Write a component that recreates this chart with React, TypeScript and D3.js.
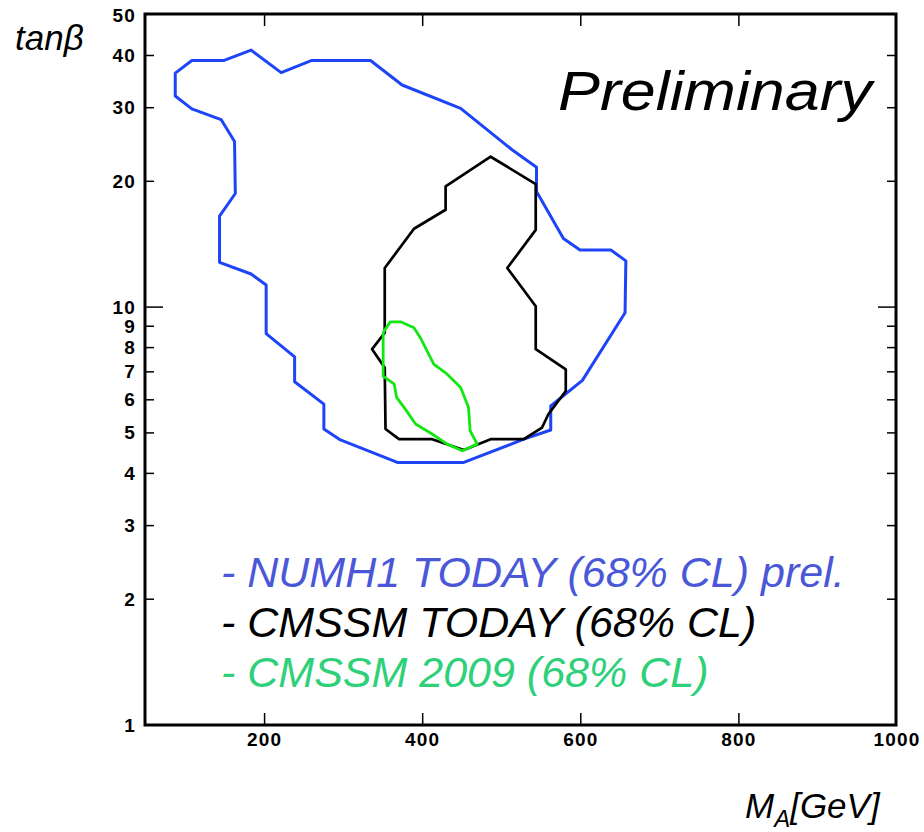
import React from "react";
import * as d3 from "d3";

// 68% CL contours in the (M_A, tanβ) plane: [M_A in GeV, tanβ]
const numh1Today: [number, number][] = [
  [108, 38.9], [148, 38.9], [183, 41.2], [221, 36.4], [259, 38.9], [334, 38.9],
  [374, 34.0], [448, 29.9], [513, 23.8], [544, 21.6], [544, 18.9], [578, 14.6],
  [599, 13.7], [638, 13.7], [657, 12.9], [656, 9.69], [602, 6.68], [562, 5.8],
  [562, 5.08], [528, 4.83], [452, 4.25], [368, 4.25], [296, 4.81], [275, 5.11],
  [275, 5.86], [238, 6.63], [238, 7.6], [202, 8.64], [202, 11.3], [183, 12.0],
  [143, 12.8], [143, 16.5], [163, 18.7], [162, 24.9], [145, 28.1], [108, 29.8],
  [87, 32.0], [87, 36.3],
];

const cmssmToday: [number, number][] = [
  [486, 22.9], [543, 19.7], [543, 15.3], [507, 12.4], [520, 11.5], [543, 10.05],
  [543, 7.93], [581, 7.1], [581, 6.3], [559, 5.54], [551, 5.15], [528, 4.83],
  [486, 4.83], [452, 4.55], [412, 4.83], [370, 4.83], [353, 5.11], [352, 7.16],
  [336, 7.93], [352, 8.68], [352, 12.4], [389, 15.4], [429, 17.1], [429, 19.45],
];

const cmssm2009: [number, number][] = [
  [351, 8.76], [359, 9.22], [372, 9.22], [389, 8.92], [397, 8.45], [414, 7.3],
  [431, 6.91], [448, 6.42], [458, 5.75], [460, 5.06], [469, 4.7], [450, 4.53],
  [431, 4.7], [412, 4.97], [391, 5.25], [378, 5.7], [367, 6.08], [364, 6.54],
  [350, 6.84], [350, 8.61],
];

const xTicks = [200, 400, 600, 800];
const xTickLabels = ["200", "400", "600", "800", "1000"];
const xLabelValues = [200, 400, 600, 800, 1000];
const yTicks = [2, 3, 4, 5, 6, 7, 8, 9, 10, 20, 30, 40];
const yMajor = [10];
const yLabelValues = [1, 2, 3, 4, 5, 6, 7, 8, 9, 10, 20, 30, 40, 50];

const legendLines = [
  { text: "- NUMH1 TODAY (68% CL) prel.", color: "#4a58d8" },
  { text: "- CMSSM TODAY (68% CL)", color: "#000000" },
  { text: "- CMSSM 2009 (68% CL)", color: "#2fd07a" },
];

const W = 924;
const H = 832;
const left = 145;
const right = 896;
const top = 14;
const bottom = 725;

export default function App() {
  const x = d3.scaleLinear().domain([50, 1000]).range([146, 897]);
  const y = d3.scaleLog().domain([1, 50]).range([725, 15]);
  const line = d3
    .line<[number, number]>()
    .x((d) => x(d[0]))
    .y((d) => y(d[1]))
    .curve(d3.curveLinearClosed);

  const tickFont = {
    fontFamily: "'Liberation Sans', Arial, sans-serif",
    fontWeight: 700,
    fontSize: 19,
    letterSpacing: 1.2,
  } as const;

  return (
    <svg
      width={W}
      height={H}
      style={{ position: "absolute", left: 0, top: 0, background: "#fff" }}
    >
      {/* contours */}
      <path d={line(numh1Today) || ""} fill="none" stroke="#1e44f8" strokeWidth={3} strokeLinejoin="round" />
      <path d={line(cmssmToday) || ""} fill="none" stroke="#000" strokeWidth={2.7} strokeLinejoin="round" />
      <path d={line(cmssm2009) || ""} fill="none" stroke="#14e614" strokeWidth={2.8} strokeLinejoin="round" />

      {/* frame */}
      <rect x={left} y={top} width={right - left} height={bottom - top} fill="none" stroke="#000" strokeWidth={3} />

      {/* x ticks, bottom and top */}
      {xTicks.map((v) => (
        <g key={"xt" + v}>
          <line x1={x(v)} x2={x(v)} y1={bottom} y2={bottom - 12} stroke="#000" strokeWidth={1.5} />
          <line x1={x(v)} x2={x(v)} y1={top} y2={top + 12} stroke="#000" strokeWidth={1.5} />
        </g>
      ))}
      {xLabelValues.map((v, i) => (
        <text key={"xl" + v} x={x(v)} y={746} textAnchor="middle" {...tickFont}>
          {xTickLabels[i]}
        </text>
      ))}

      {/* y ticks, left and right */}
      {yTicks.map((v) => {
        const len = yMajor.includes(v) ? 18 : 9;
        return (
          <g key={"yt" + v}>
            <line x1={left} x2={left + len} y1={y(v)} y2={y(v)} stroke="#000" strokeWidth={1.5} />
            <line x1={right} x2={right - len} y1={y(v)} y2={y(v)} stroke="#000" strokeWidth={1.5} />
          </g>
        );
      })}
      {yLabelValues.map((v) => (
        <text key={"yl" + v} x={136} y={y(v)} textAnchor="end" dominantBaseline="central" {...tickFont}>
          {String(v)}
        </text>
      ))}

      {/* axis titles */}
      <text
        x={15}
        y={50}
        fontFamily="'Liberation Sans', Arial, sans-serif"
        fontStyle="italic"
        fontSize={35}
      >
        tanβ
      </text>
      <text
        x={745}
        y={818}
        fontFamily="'Liberation Sans', Arial, sans-serif"
        fontStyle="italic"
        fontSize={35}
      >
        M
        <tspan fontSize={24} dy={9}>A</tspan>
        <tspan dy={-9}>[GeV]</tspan>
      </text>

      {/* annotation */}
      <text
        x={558}
        y={110}
        fontFamily="'Liberation Sans', Arial, sans-serif"
        fontStyle="italic"
        fontSize={55}
        textLength={314}
        lengthAdjust="spacingAndGlyphs"
      >
        Preliminary
      </text>

      {/* legend */}
      {legendLines.map((l, i) => (
        <text
          key={l.text}
          x={221}
          y={587 + i * 50}
          fill={l.color}
          fontFamily="'Liberation Sans', Arial, sans-serif"
          fontStyle="italic"
          fontSize={43}
        >
          {l.text}
        </text>
      ))}
    </svg>
  );
}
